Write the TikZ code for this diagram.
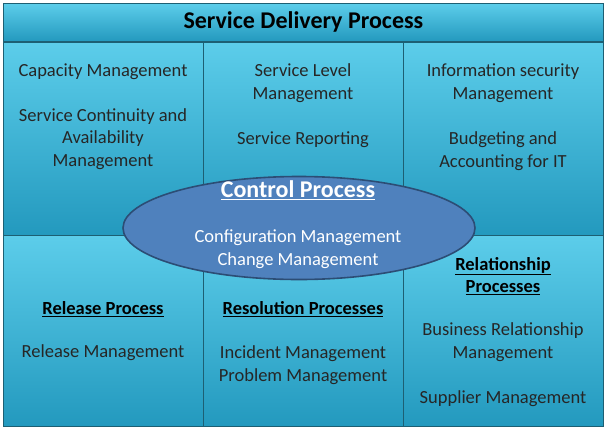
\documentclass[tikz,border=0pt]{standalone}
\usepackage{fontspec}
\setmainfont{Carlito}
\usetikzlibrary{shapes.geometric}
\definecolor{ctop}{HTML}{5CCDEA}
\definecolor{cbot}{HTML}{2399BE}
\definecolor{cedge}{HTML}{1D5F73}
\definecolor{ellf}{HTML}{4F81BD}
\definecolor{elle}{HTML}{2C4D75}
\tikzset{
 cell/.style={draw=cedge, line width=0.8pt, top color=ctop, bottom color=cbot, shading angle=0},
 txt/.style={font=\fontsize{18.5}{22.5}\selectfont, align=center, text=black!85},
 hd/.style={font=\fontsize{18.5}{22.5}\selectfont\bfseries, align=center},
}
\begin{document}
\begin{tikzpicture}[x=1pt,y=-1pt]
\useasboundingbox (0,0) rectangle (605,429);
\fill[white] (0,0) rectangle (605,429);
\node[cell, minimum width=600, minimum height=38, inner sep=0, anchor=north west] (title) at (3,3) {};
\node[font=\fontsize{24}{26}\selectfont\bfseries] (tt) at (title.center) {Service Delivery Process};
\foreach \c/\x in {a/3,b/203,c/403}{
 \node[cell, minimum width=200, minimum height=193, inner sep=0, anchor=north west] (\c1) at (\x,42) {};
 \node[cell, minimum width=200, minimum height=191, inner sep=0, anchor=north west] (\c2) at (\x,235) {};
}
\node[txt] (t1) at (103,72) {Capacity Management};
\node[txt] (t2) at (103,139) {Service Continuity and\\Availability\\Management};
\node[txt] (t3) at (303,83) {Service Level\\Management};
\node[txt] (t4) at (303,140) {Service Reporting};
\node[txt] (t5) at (503,83) {Information security\\Management};
\node[txt] (t6) at (503,151) {Budgeting and\\Accounting for IT};
\node[draw=elle, line width=1.6pt, fill=ellf, ellipse, minimum width=352, minimum height=103, inner sep=0] (ell) at (299,228) {};
\node[font=\fontsize{24}{26}\selectfont\bfseries, text=white] (ch) at (298,190) {\underline{Control Process}};
\node[txt, text=white] (ct) at (298,249) {Configuration Management\\Change Management};
\node[hd] (h1) at (103,309) {\underline{Release Process}};
\node[txt] (t7) at (103,353) {Release Management};
\node[hd] (h2) at (303,309) {\underline{Resolution Processes}};
\node[txt] (t8) at (303,365) {Incident Management\\Problem Management};
\node[hd] (h3) at (503,276) {\underline{Relationship}\\\underline{Processes}};
\node[txt] (t9) at (503,342) {Business Relationship\\Management};
\node[txt] (t10) at (503,399) {Supplier Management};
\end{tikzpicture}
\end{document}
